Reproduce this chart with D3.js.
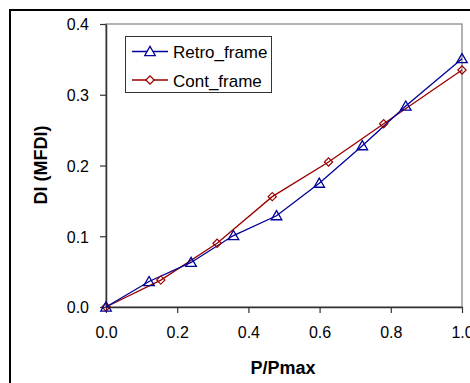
<!DOCTYPE html>
<html><head><meta charset="utf-8">
<script src="https://cdn.jsdelivr.net/npm/d3@7"></script>
<style>body{margin:0;background:#fff}svg{display:block}</style>
</head><body>
<svg id="c" width="470" height="383"></svg>
<script>
const retroX = [0, 0.121, 0.239, 0.358, 0.479, 0.599, 0.720, 0.842, 1.0];
const retroY = [0, 0.036, 0.063, 0.101, 0.129, 0.175, 0.228, 0.284, 0.351];
const contX = [0, 0.154, 0.312, 0.467, 0.625, 0.780, 1.0];
const contY = [0, 0.038, 0.090, 0.156, 0.205, 0.259, 0.335];
const xTicks = [0, 0.2, 0.4, 0.6, 0.8, 1.0];
const yTicks = [0, 0.1, 0.2, 0.3, 0.4];
const seriesNames = ["Retro_frame", "Cont_frame"];
const colors = ["#000099", "#990000"];

const svg = d3.select("#c");
const font = "Liberation Sans, Arial, sans-serif";
// outer frame
svg.append("rect").attr("x",10).attr("y",10).attr("width",480).attr("height",400)
  .attr("fill","none").attr("stroke","#000").attr("stroke-width",2);

const x = d3.scaleLinear().domain([0,1]).range([106,462]);
const y = d3.scaleLinear().domain([0,0.4]).range([307,24]);

// plot area border (gray)
svg.append("rect").attr("x",106).attr("y",24).attr("width",356).attr("height",283)
  .attr("fill","none").attr("stroke","#999").attr("stroke-width",1.5);

const xAx = svg.append("g").attr("transform","translate(0,307)")
  .call(d3.axisBottom(x).tickValues(xTicks).tickFormat(d3.format(".1f")).tickSize(6).tickSizeOuter(0));
const yAx = svg.append("g").attr("transform","translate(106,0)")
  .call(d3.axisLeft(y).tickValues(yTicks).tickFormat(d3.format(".1f")).tickSize(6).tickSizeOuter(0));
[xAx,yAx].forEach(g=>{
  g.selectAll("path").attr("stroke","#333").attr("stroke-width",1.5);
  g.selectAll("line").attr("stroke","#333").attr("stroke-width",1.2);
  g.selectAll("text").attr("font-family",font).attr("font-size",16).attr("fill","#000");
});
xAx.selectAll("text").attr("y",31).attr("dy",0);
yAx.selectAll("text").attr("x",-17).attr("dy","0.36em");

// axis titles
svg.append("text").attr("x",283).attr("y",374).attr("text-anchor","middle")
  .attr("font-family",font).attr("font-size",18).attr("font-weight","bold").text("P/Pmax");
svg.append("text").attr("transform","translate(47,165) rotate(-90)").attr("text-anchor","middle")
  .attr("font-family",font).attr("font-size",18).attr("font-weight","bold").text("DI (MFDI)");

const line = d3.line().x(d=>x(d[0])).y(d=>y(d[1]));
const retro = retroX.map((v,i)=>[v,retroY[i]]);
const cont = contX.map((v,i)=>[v,contY[i]]);

const tri = d3.symbol().type(d3.symbolTriangle).size(48);
const sq = d3.symbol().type(d3.symbolSquare).size(34);

svg.append("path").datum(cont).attr("d",line).attr("fill","none").attr("stroke",colors[1]).attr("stroke-width",1.3);
svg.append("path").datum(retro).attr("d",line).attr("fill","none").attr("stroke",colors[0]).attr("stroke-width",1.3);

svg.selectAll(".cm").data(cont).enter().append("path")
  .attr("d",sq).attr("transform",d=>`translate(${x(d[0])},${y(d[1])}) rotate(45)`)
  .attr("fill","none").attr("stroke",colors[1]).attr("stroke-width",1.2);
svg.selectAll(".rm").data(retro).enter().append("path")
  .attr("d",tri).attr("transform",d=>`translate(${x(d[0])},${y(d[1])+1})`)
  .attr("fill","none").attr("stroke",colors[0]).attr("stroke-width",1.3);

// legend
const lg = svg.append("g");
lg.append("rect").attr("x",125.5).attr("y",36.5).attr("width",146).attr("height",56)
  .attr("fill","#fff").attr("stroke","#333").attr("stroke-width",1);
[0,1].forEach(i=>{
  const ly = [51.5,80][i];
  lg.append("line").attr("x1",132).attr("x2",168).attr("y1",ly).attr("y2",ly)
    .attr("stroke",colors[i]).attr("stroke-width",1.3);
  lg.append("path").attr("d", i===0?tri:sq)
    .attr("transform",i===0?`translate(150,${ly+1})`:`translate(150,${ly}) rotate(45)`)
    .attr("fill","#fff").attr("stroke",colors[i]).attr("stroke-width",1.3);
  lg.append("text").attr("x",173).attr("y",ly+6.5).attr("font-family",font).attr("font-size",17)
    .text(seriesNames[i]);
});
</script>
</body></html>
